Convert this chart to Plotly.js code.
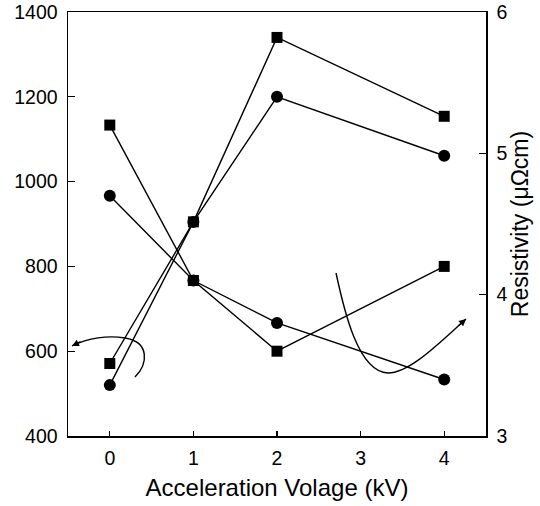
<!DOCTYPE html>
<html>
<head>
<meta charset="utf-8">
<script src="https://cdn.plot.ly/plotly-3.0.1.min.js"></script>
<style>
  html, body { margin: 0; padding: 0; background: #fff; }
  #chart { width: 540px; height: 506px; }
</style>
</head>
<body>
<div id="chart"></div>
<script>
// Acceleration voltage (kV)
const voltage = [0, 1, 2, 4];

// Left-axis series
const leftSquares = [571, 905, 1340, 1154];
const leftCircles = [520, 905, 1200, 1061];

// Resistivity (μΩcm), right axis
const resSquares = [5.2, 4.1, 3.6, 4.2];
const resCircles = [4.7, 4.1, 3.8, 3.4];

const xTicks = [0, 1, 2, 3, 4];
const leftTicks = [400, 600, 800, 1000, 1200, 1400];
const rightTicks = [3, 4, 5, 6];

const FONT = 'Liberation Sans, Arial, sans-serif';
const lineStyle = { color: '#000', width: 1.4 };

function series(y, symbol, size, axis) {
  return {
    x: voltage, y: y, yaxis: axis, type: 'scatter', mode: 'lines+markers',
    line: lineStyle, cliponaxis: false,
    marker: { symbol: symbol, size: size, color: '#000' },
    hoverinfo: 'x+y', showlegend: false
  };
}

const data = [
  series(leftCircles, 'circle', 12, 'y'),
  series(resCircles, 'circle', 12, 'y2'),
  series(leftSquares, 'square', 11, 'y'),
  series(resSquares, 'square', 11, 'y2')
];

const axisCommon = {
  showgrid: false, zeroline: false, showline: true, linecolor: '#000', linewidth: 1.5,
  ticks: 'inside', ticklen: 7, tickwidth: 1.3, tickcolor: '#000',
  tickfont: { family: FONT, size: 19.5, color: '#000' }
};

const layout = {
  width: 540, height: 506,
  margin: { l: 68, r: 54, t: 12, b: 70 },
  paper_bgcolor: '#fff', plot_bgcolor: '#fff',
  font: { family: FONT, color: '#000' },
  xaxis: Object.assign({}, axisCommon, {
    range: [-0.5, 4.5], tickvals: xTicks, ticktext: xTicks.map(String),
    ticklen: 5, mirror: true, ticklabelstandoff: 4,
    title: { text: 'Acceleration Volage (kV)', font: { family: FONT, size: 24, color: '#000' }, standoff: 11 }
  }),
  yaxis: Object.assign({}, axisCommon, {
    range: [400, 1400], tickvals: leftTicks, ticktext: leftTicks.map(String),
    ticklabelstandoff: 5
  }),
  yaxis2: Object.assign({}, axisCommon, {
    overlaying: 'y', side: 'right',
    range: [3, 6], tickvals: rightTicks, ticktext: rightTicks.map(String),
    ticklabelstandoff: 5,
    title: { text: 'Resistivity (μΩcm)', font: { family: FONT, size: 23, color: '#000' }, standoff: 4 }
  }),
  // curved pointers: one towards the left axis, one towards the right axis
  shapes: [
    {
      type: 'path', xref: 'x', yref: 'y',
      path: 'M 0.301,539 C 0.457,569.8 0.481,621.7 0.182,631.1 C -0.022,638.2 -0.261,631.1 -0.452,612.3',
      line: { color: '#000', width: 1.4 }
    },
    {
      type: 'path', xref: 'x', yref: 'y',
      path: 'M 2.706,784.4 C 2.801,697.2 2.969,550.9 3.328,548.6 C 3.591,548.6 3.950,621.7 4.261,675.9',
      line: { color: '#000', width: 1.4 }
    }
  ],
  annotations: [
    {
      x: -0.452, y: 612.3, xref: 'x', yref: 'y', text: '',
      showarrow: true, arrowhead: 2, arrowsize: 1, arrowwidth: 1.4, arrowcolor: '#000',
      ax: 10, ay: -5, standoff: 0
    },
    {
      x: 4.261, y: 675.9, xref: 'x', yref: 'y', text: '',
      showarrow: true, arrowhead: 2, arrowsize: 1, arrowwidth: 1.4, arrowcolor: '#000',
      ax: -9, ay: 8, standoff: 0
    }
  ]
};

Plotly.newPlot('chart', data, layout, { displayModeBar: false, staticPlot: true });
</script>
</body>
</html>
